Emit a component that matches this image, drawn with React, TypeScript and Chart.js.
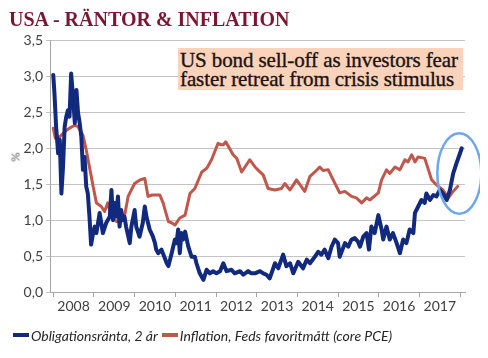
import React, { useEffect, useRef } from "react";
import { Chart, registerables } from "chart.js";

Chart.register(...registerables);

const chartTitle = "USA - RÄNTOR & INFLATION";
const noteLines = ["US bond sell-off as investors fear", "faster retreat from crisis stimulus"];
const yearLabels = ["2008", "2009", "2010", "2011", "2012", "2013", "2014", "2015", "2016", "2017"];
const yTickValues = [0, 0.5, 1, 1.5, 2, 2.5, 3, 3.5];
const yAxisTitle = "%";
const bondLabel = "Obligationsränta, 2 år";
const inflLabel = "Inflation, Feds favoritmått (core PCE)";

const bondT = [
  2008.0, 2008.03, 2008.07, 2008.12, 2008.16, 2008.2, 2008.24, 2008.28, 2008.32, 2008.36,
  2008.4, 2008.44, 2008.48, 2008.53, 2008.57, 2008.61, 2008.65, 2008.69, 2008.73, 2008.77,
  2008.81, 2008.85, 2008.89, 2008.93, 2008.98, 2009.02, 2009.06, 2009.14, 2009.18, 2009.22,
  2009.3, 2009.39, 2009.43, 2009.47, 2009.51, 2009.55, 2009.59, 2009.63, 2009.67, 2009.71,
  2009.75, 2009.79, 2009.88, 2009.92, 2010.0, 2010.04, 2010.12, 2010.2, 2010.25, 2010.29,
  2010.37, 2010.45, 2010.5, 2010.53, 2010.58, 2010.66, 2010.79, 2010.83, 2010.91, 2010.99,
  2011.03, 2011.07, 2011.11, 2011.15, 2011.19, 2011.24, 2011.32, 2011.4, 2011.48, 2011.52,
  2011.6, 2011.69, 2011.77, 2011.85, 2011.93, 2012.01, 2012.1, 2012.18, 2012.26, 2012.38,
  2012.46, 2012.59, 2012.67, 2012.79, 2012.87, 2012.96, 2013.08, 2013.16, 2013.24, 2013.32,
  2013.45, 2013.53, 2013.65, 2013.73, 2013.82, 2013.9, 2014.02, 2014.14, 2014.23, 2014.31,
  2014.43, 2014.51, 2014.59, 2014.67, 2014.76, 2014.84, 2014.92, 2015.0, 2015.04, 2015.17,
  2015.25, 2015.33, 2015.41, 2015.49, 2015.54, 2015.62, 2015.7, 2015.76, 2015.82, 2015.9,
  2015.99, 2016.07, 2016.11, 2016.19, 2016.27, 2016.35, 2016.44, 2016.52, 2016.6, 2016.68,
  2016.76, 2016.85, 2016.89, 2016.97, 2017.05, 2017.13, 2017.17, 2017.26, 2017.34, 2017.42,
  2017.5, 2017.58, 2017.67, 2017.75, 2017.83, 2017.91, 2018.04,
];
const bondV = [
  3.02, 2.76, 2.3, 1.93, 2.12, 1.37, 1.74, 2.3, 2.44, 2.53,
  2.44, 3.04, 2.76, 2.35, 2.81, 2.49, 2.35, 2.16, 1.7, 1.88,
  1.47, 1.37, 1.05, 0.66, 0.82, 0.91, 0.82, 1.1, 0.96, 0.82,
  0.96, 1.05, 1.42, 1.0, 1.24, 1.05, 1.33, 0.91, 1.14, 1.0,
  1.05, 0.91, 0.68, 0.91, 1.14, 0.91, 0.77, 0.96, 1.19, 1.05,
  0.87, 0.77, 0.68, 0.59, 0.54, 0.59, 0.4, 0.36, 0.54, 0.73,
  0.68, 0.87, 0.54, 0.82, 0.73, 0.84, 0.63, 0.49, 0.49, 0.4,
  0.26, 0.17, 0.31, 0.26, 0.29, 0.26, 0.29, 0.4, 0.29, 0.31,
  0.26, 0.29, 0.24, 0.29, 0.26, 0.26, 0.29, 0.26, 0.24, 0.19,
  0.4, 0.33, 0.52, 0.36, 0.4, 0.26, 0.42, 0.33, 0.45, 0.4,
  0.49, 0.56, 0.52, 0.59, 0.47, 0.63, 0.73, 0.68, 0.49, 0.68,
  0.63, 0.73, 0.75, 0.7, 0.63, 0.77, 0.82, 0.59, 0.91, 0.82,
  1.07, 0.87, 0.73, 0.91, 0.73, 0.82, 0.68, 0.54, 0.73, 0.68,
  0.87, 0.82, 1.1, 1.19, 1.28, 1.24, 1.37, 1.28, 1.35, 1.33,
  1.42, 1.37, 1.28, 1.42, 1.65, 1.79, 2.0,
];

const inflT = [
  2008.0, 2008.05, 2008.16, 2008.28, 2008.4, 2008.53, 2008.61, 2008.73, 2008.81, 2008.89,
  2008.98, 2009.06, 2009.18, 2009.26, 2009.34, 2009.43, 2009.56, 2009.71, 2009.75, 2009.84,
  2010.0, 2010.13, 2010.25, 2010.33, 2010.43, 2010.53, 2010.62, 2010.7, 2010.83, 2010.92,
  2010.99, 2011.11, 2011.24, 2011.36, 2011.48, 2011.65, 2011.77, 2011.89, 2012.05, 2012.12,
  2012.18, 2012.24, 2012.42, 2012.51, 2012.63, 2012.83, 2012.96, 2013.08, 2013.16, 2013.28,
  2013.45, 2013.61, 2013.69, 2013.82, 2013.98, 2014.18, 2014.31, 2014.43, 2014.55, 2014.63,
  2014.76, 2014.88, 2015.04, 2015.17, 2015.33, 2015.45, 2015.58, 2015.7, 2015.78, 2015.99,
  2016.07, 2016.19, 2016.27, 2016.4, 2016.52, 2016.64, 2016.72, 2016.81, 2016.89, 2016.97,
  2017.13, 2017.21, 2017.3, 2017.42, 2017.58, 2017.71, 2017.8, 2017.94,
];
const inflV = [
  2.28, 2.14, 2.16, 2.23, 2.28, 2.32, 2.3, 2.18, 1.98, 1.74,
  1.47, 1.24, 1.19, 1.12, 1.24, 1.05, 0.98, 1.0, 1.05, 1.33,
  1.51, 1.56, 1.58, 1.33, 1.35, 1.35, 1.35, 1.24, 0.98, 0.96,
  0.93, 1.03, 1.07, 1.37, 1.44, 1.67, 1.72, 1.84, 2.07, 2.05,
  2.05, 2.09, 1.91, 1.86, 1.67, 1.84, 1.74, 1.67, 1.63, 1.44,
  1.42, 1.44, 1.51, 1.42, 1.56, 1.4, 1.61, 1.67, 1.74, 1.69,
  1.7, 1.56, 1.38, 1.4, 1.33, 1.31, 1.24, 1.31, 1.28, 1.38,
  1.56, 1.7, 1.65, 1.74, 1.7, 1.84, 1.81, 1.91, 1.81, 1.88,
  1.86, 1.72, 1.56, 1.49, 1.42, 1.31, 1.38, 1.47,
];

const highlightCenter = [2017.98, 1.65];
const highlightRadius = [0.54, 0.56];

const BLUE = "#122a7e";
const RED = "#c0574b";
const GRID = "#c4c4c4";
const AXIS = "#a6a6a6";
const TEXT = "#404040";

const highlightPlugin = {
  id: "highlightEllipse",
  afterDatasetsDraw(chart: any) {
    const { ctx, scales } = chart;
    const xs = scales.x;
    const ys = scales.y;
    const cx = xs.getPixelForValue(highlightCenter[0]);
    const cy = ys.getPixelForValue(highlightCenter[1]);
    const rx = Math.abs(xs.getPixelForValue(highlightCenter[0] + highlightRadius[0]) - cx);
    const ry = Math.abs(ys.getPixelForValue(highlightCenter[1] + highlightRadius[1]) - cy);
    ctx.save();
    ctx.beginPath();
    ctx.ellipse(cx, cy, rx, ry, 0, 0, Math.PI * 2);
    ctx.strokeStyle = "#6ea7ec";
    ctx.lineWidth = 2.5;
    ctx.stroke();
    ctx.restore();
  },
};

export default function App() {
  const canvasRef = useRef<HTMLCanvasElement | null>(null);

  useEffect(() => {
    if (!canvasRef.current) return;
    const bondData = bondT.map((t, i) => ({ x: t, y: bondV[i] }));
    const inflData = inflT.map((t, i) => ({ x: t, y: inflV[i] }));
    const firstYear = Number(yearLabels[0]);
    const xTickVals: number[] = [];
    yearLabels.forEach((_, i) => {
      xTickVals.push(firstYear + i, firstYear + i + 0.5);
    });
    xTickVals.push(firstYear + yearLabels.length);

    const chart = new Chart(canvasRef.current, {
      type: "line",
      data: {
        datasets: [
          {
            label: bondLabel,
            data: bondData,
            borderColor: BLUE,
            backgroundColor: BLUE,
            borderWidth: 4,
            pointRadius: 0,
            tension: 0,
            borderJoinStyle: "round",
            borderCapStyle: "round",
          },
          {
            label: inflLabel,
            data: inflData,
            borderColor: RED,
            backgroundColor: RED,
            borderWidth: 3,
            pointRadius: 0,
            tension: 0,
            borderJoinStyle: "round",
            borderCapStyle: "round",
          },
        ],
      },
      options: {
        responsive: false,
        animation: false,
        layout: { padding: { top: 32.5, right: 15, bottom: 28, left: 0 } },
        plugins: {
          legend: { display: false },
          title: { display: false },
          tooltip: { enabled: false },
        },
        scales: {
          x: {
            type: "linear",
            min: 2007.92,
            max: 2018.12,
            afterBuildTicks: (scale: any) => {
              scale.ticks = xTickVals.map((v) => ({ value: v }));
            },
            afterFit: (scale: any) => {
              scale.height = 30;
            },
            ticks: {
              autoSkip: false,
              maxRotation: 0,
              padding: 1,
              color: TEXT,
              font: { family: "Lato", size: 14 },
              callback: (v: any) => {
                const n = Number(v);
                return Math.abs(n - Math.floor(n) - 0.5) < 1e-6 ? String(Math.floor(n)) : "";
              },
            },
            grid: {
              drawOnChartArea: false,
              drawTicks: true,
              tickLength: 5,
              tickColor: (ctx: any) => {
                const v = ctx.tick ? ctx.tick.value : 0;
                return Math.abs(v - Math.round(v)) < 1e-6 ? AXIS : "rgba(0,0,0,0)";
              },
            },
            border: { display: true, color: AXIS, width: 1 },
          },
          y: {
            min: 0,
            max: 3.5,
            afterBuildTicks: (scale: any) => {
              scale.ticks = yTickValues.map((v) => ({ value: v }));
            },
            afterFit: (scale: any) => {
              scale.width = 42;
            },
            ticks: {
              padding: 3,
              color: TEXT,
              font: { family: "Lato", size: 14 },
              callback: (v: any) => Number(v).toFixed(1).replace(".", ","),
            },
            grid: {
              color: GRID,
              lineWidth: 1,
              drawTicks: true,
              tickLength: 4,
              tickColor: GRID,
            },
            border: { display: true, color: AXIS, width: 1 },
          },
        },
      },
      plugins: [highlightPlugin],
    });
    return () => chart.destroy();
  }, []);

  return (
    <div style={{ position: "relative", width: 472, height: 342 }}>
      <canvas ref={canvasRef} width={472} height={342} style={{ display: "block" }} />
      <div
        style={{
          position: "absolute",
          left: 1,
          top: 1,
          fontFamily: "'Liberation Serif', serif",
          fontWeight: "bold",
          fontSize: 20,
          lineHeight: "20px",
          color: "#7a1631",
          whiteSpace: "nowrap",
        }}
      >
        {chartTitle}
      </div>
      <div
        style={{
          position: "absolute",
          left: 170,
          top: 40,
          width: 285,
          padding: "2.5px 0 1.5px 2px",
          background: "#fbd2ba",
          fontFamily: "'Liberation Serif', serif",
          fontSize: 21,
          lineHeight: "19px",
          letterSpacing: "-0.1px",
          color: "#1c1212",
          WebkitTextStroke: "0.35px #1c1212",
          whiteSpace: "nowrap",
          boxSizing: "border-box",
          overflow: "hidden",
        }}
      >
        {noteLines.map((l, i) => (
          <div key={i}>{l}</div>
        ))}
      </div>
      <div
        style={{
          position: "absolute",
          left: 7,
          top: 149,
          transform: "translate(-50%, -50%) rotate(-90deg)",
          fontFamily: "Lato, sans-serif",
          fontSize: 12,
          color: "#595959",
        }}
      >
        {yAxisTitle}
      </div>
      <div
        style={{
          position: "absolute",
          left: 5,
          top: 318,
          height: 18,
          display: "flex",
          alignItems: "center",
          fontFamily: "Lato, sans-serif",
          fontStyle: "italic",
          fontSize: 14,
          color: "#262626",
          whiteSpace: "nowrap",
        }}
      >
        <span style={{ display: "inline-block", width: 16, height: 4, background: BLUE, marginRight: 2 }} />
        <span style={{ marginRight: 4 }}>{bondLabel}</span>
        <span style={{ display: "inline-block", width: 16, height: 4, background: RED, marginRight: 2 }} />
        <span>{inflLabel}</span>
      </div>
    </div>
  );
}
